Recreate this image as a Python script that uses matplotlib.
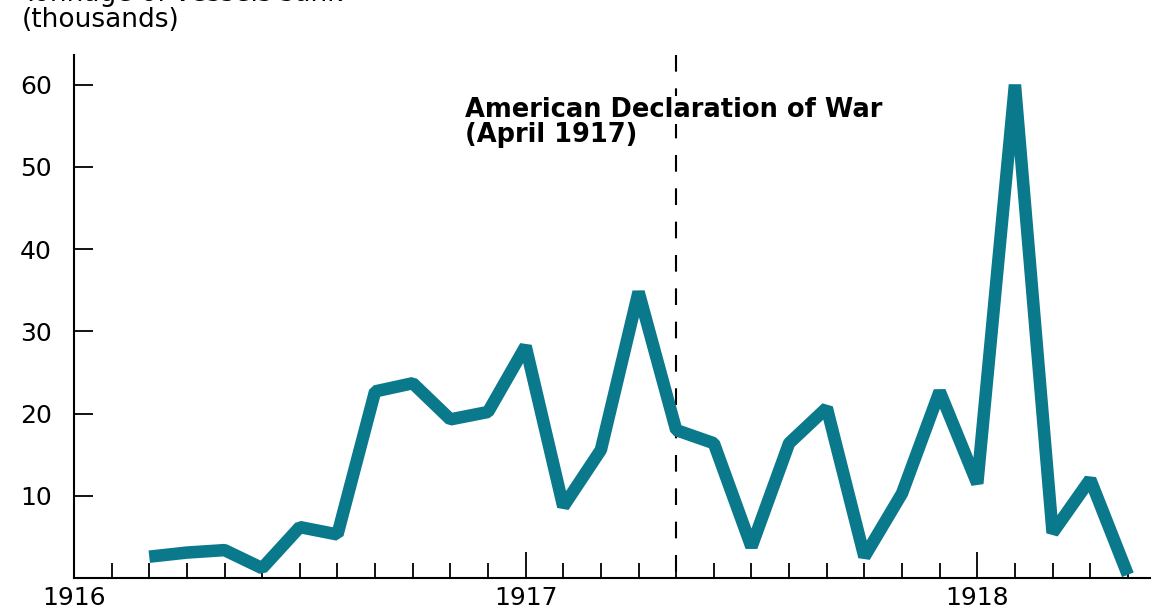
import numpy as np
import matplotlib.pyplot as plt
import matplotlib as mpl

mpl.rcParams['font.family'] = ['DejaVu Sans']

# months counted from January 1916 (0 = Jan 1916)
months = list(range(2, 29))
tonnage = [2.6, 3.1, 3.4, 1.2, 6.2, 5.3, 22.7, 23.7, 19.3, 20.2, 28.2, 8.7, 15.6,
           34.8, 18.0, 16.4, 3.8, 16.4, 20.7, 2.6, 10.3, 22.7, 11.5, 60.0, 5.5, 12.0, 0.4]
year_labels = ['1916', '1917', '1918']
year_pos = [0, 12, 24]
yticks = [10, 20, 30, 40, 50, 60]
war_month = 16

ymax = 63.6

fig = plt.figure(figsize=(11.65, 6.13), dpi=100)
ax = fig.add_axes([0.0635, 0.057, 0.924, 0.853])

ax.plot(months, tonnage, color='#09798b', lw=9, solid_joinstyle='bevel',
        solid_capstyle='butt', zorder=3)

# dashed marker for the declaration, drawn from the top down
ax.plot([war_month, war_month], [ymax, 0], color='black', lw=1.5,
        dashes=(8, 8), zorder=1, clip_on=False)
ax.text(10.39, 56.1, 'American Declaration of War', fontsize=18.5,
        fontweight='bold', va='baseline', ha='left', zorder=2,
        bbox=dict(facecolor='white', edgecolor='none', pad=0.5))
ax.text(10.39, 53.0, '(April 1917)', fontsize=18.5,
        fontweight='bold', va='baseline', ha='left', zorder=2)

ax.set_xlim(0, 28.6)
ax.set_ylim(0, ymax)

for s in ['top', 'right']:
    ax.spines[s].set_visible(False)
for s in ['left', 'bottom']:
    ax.spines[s].set_linewidth(1.5)

ax.set_yticks(yticks)
ax.set_yticklabels([str(v) for v in yticks])
ax.tick_params(axis='y', direction='in', length=14, width=1.3, labelsize=18, pad=16)

ax.set_xticks(year_pos)
ax.set_xticklabels(year_labels)
ax.set_xticks([m for m in range(1, 29) if m % 12 != 0], minor=True)
ax.tick_params(axis='x', which='major', direction='in', length=19, width=1.3,
               labelsize=18, pad=6)
ax.tick_params(axis='x', which='minor', direction='in', length=11, width=1.3)

fig.text(22 / 1165, 1 - 1 / 613, 'Tonnage of vessels sunk', fontsize=19, va='baseline')
fig.text(22 / 1165, 1 - 27 / 613, '(thousands)', fontsize=19, va='baseline')

fig.savefig('out.png', dpi=100)
